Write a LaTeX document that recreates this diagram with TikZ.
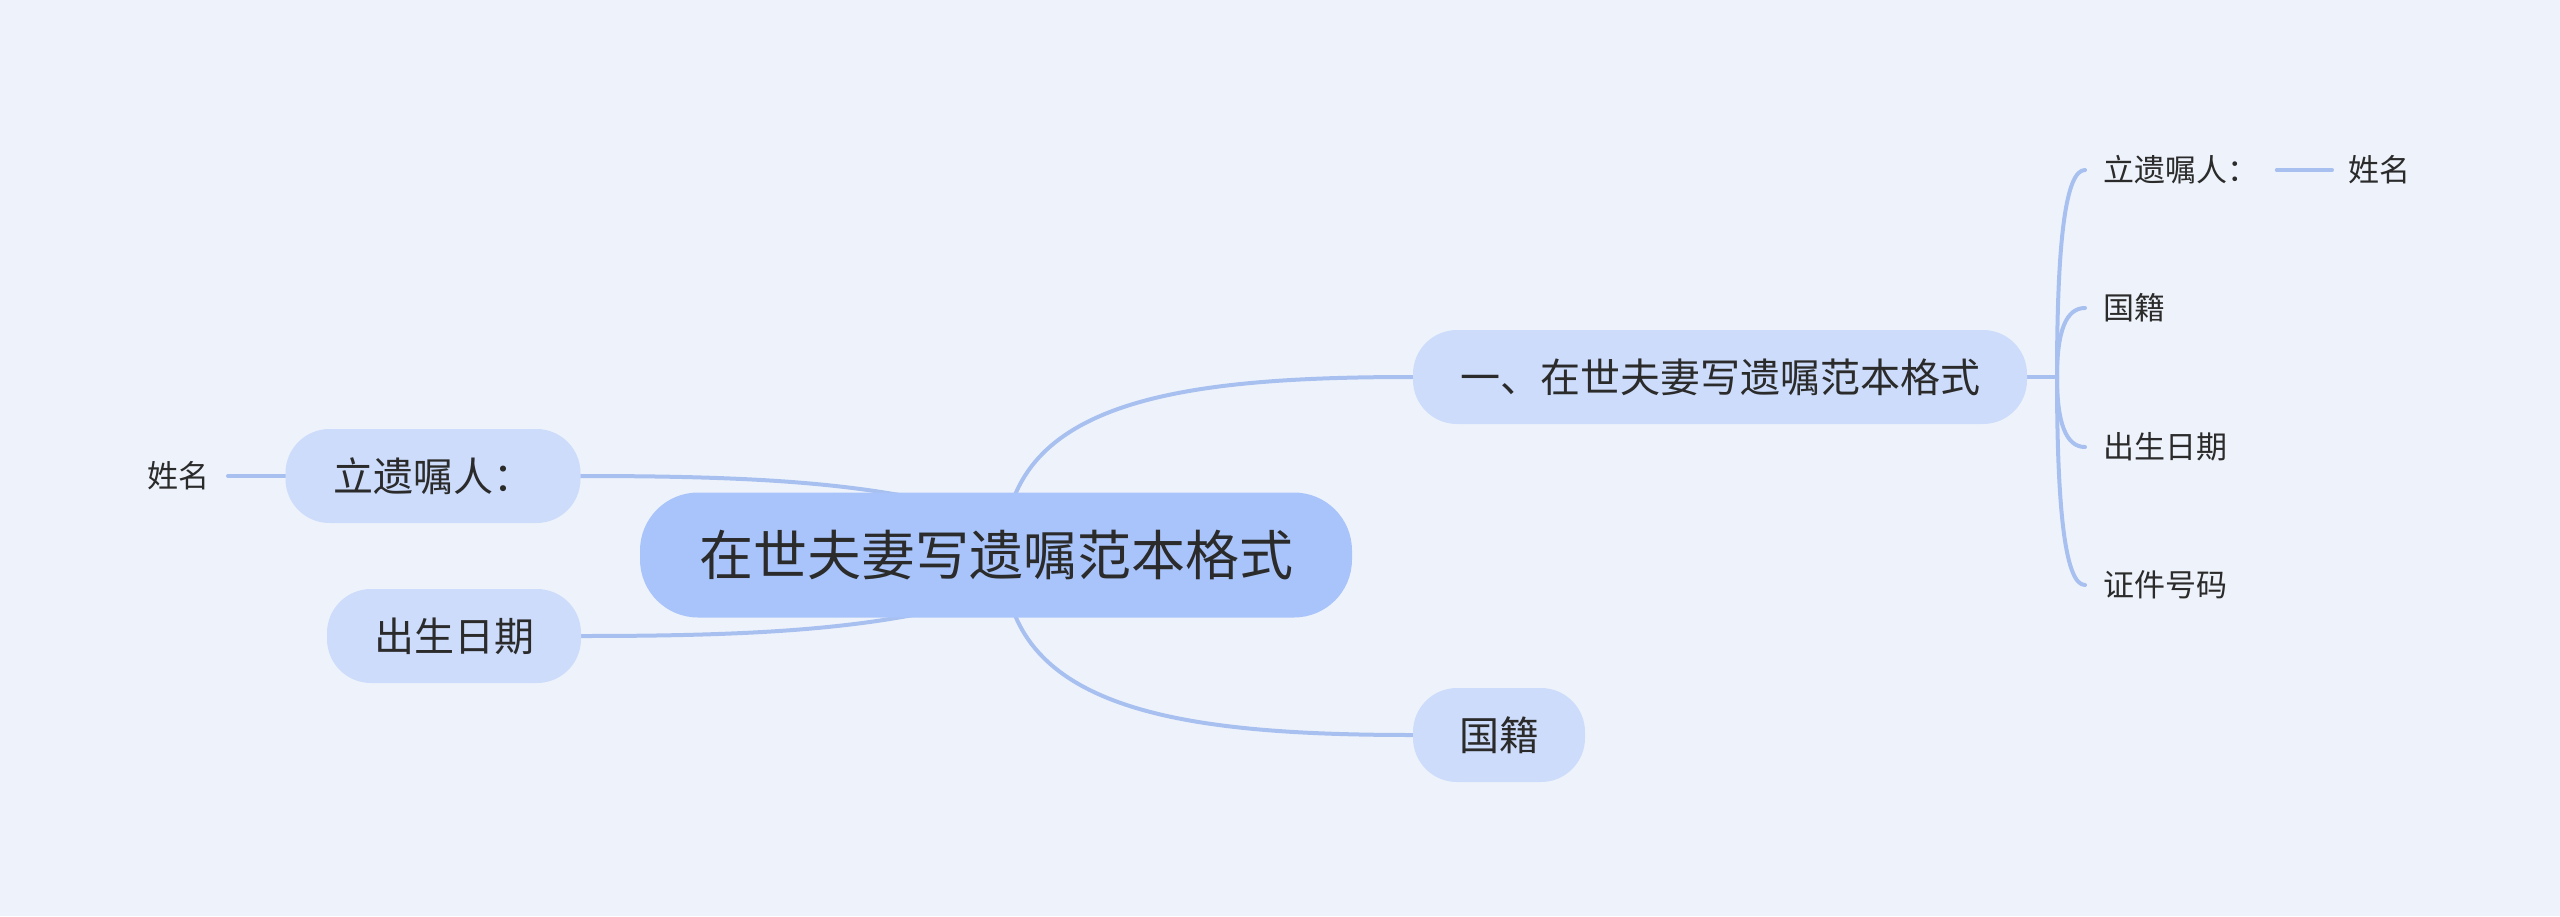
\documentclass[tikz,border=0pt]{standalone}
\usepackage{fontspec}
\newfontfamily\cjk{Noto Sans CJK SC}
\definecolor{bgc}{HTML}{EEF3FB}
\definecolor{mainc}{HTML}{A9C4FA}
\definecolor{subc}{HTML}{CCDCFA}
\definecolor{linec}{HTML}{A8C0F0}
\definecolor{txtc}{HTML}{2B2B2B}
\pgfdeclarelayer{bglayer}
\pgfdeclarelayer{linelayer}
\pgfsetlayers{bglayer,linelayer,main}
\tikzset{
  rootbox/.style={fill=mainc, text=txtc, rounded corners=29pt, inner sep=0pt,
    font=\cjk\fontsize{27pt}{32pt}\selectfont, text height=23.8pt, text depth=3.2pt,
    minimum width=356pt, minimum height=62.5pt},
  topicbox/.style={fill=subc, text=txtc, rounded corners=22pt, inner sep=0pt,
    font=\cjk\fontsize{20pt}{24pt}\selectfont, text height=17.6pt, text depth=2.4pt,
    minimum height=47pt},
  leaf/.style={text=txtc, inner ysep=0pt, inner xsep=9pt,
    font=\cjk\fontsize{15.5pt}{18pt}\selectfont, text height=13.6pt, text depth=1.9pt},
  link/.style={draw=linec, line width=2pt, line cap=round},
}
\begin{document}
\begin{tikzpicture}[x=0.5pt, y=-0.5pt]
\begin{pgfonlayer}{bglayer}
  \fill[bgc] (0,0) rectangle (2560,916);
\end{pgfonlayer}
\useasboundingbox (0,0) rectangle (2560,916);

% nodes
\node[rootbox] (c) at (996,555) {在世夫妻写遗嘱范本格式};
\node[topicbox, minimum width=307pt] (n1) at (1720,377) {一、在世夫妻写遗嘱范本格式};
\node[topicbox, minimum width=86pt] (n2) at (1499,735) {国籍};
\node[topicbox, minimum width=147.5pt] (l1) at (433,476) {立遗嘱人：};
\node[topicbox, minimum width=127pt] (l2) at (454,636) {出生日期};
\node[leaf, anchor=east] (lx) at (228,476) {姓名};

\node[leaf, anchor=west] (r1) at (2085,170) {立遗嘱人：};
\node[leaf, anchor=west] (r2) at (2085,308) {国籍};
\node[leaf, anchor=west] (r3) at (2085,447) {出生日期};
\node[leaf, anchor=west] (r4) at (2085,585) {证件号码};
\node[leaf, anchor=west, inner xsep=8pt] (rx) at (2332,170) {姓名};

\coordinate (cr) at (1004,555);
\coordinate (cl1) at (975,512);
\coordinate (cl2) at (975,601);
\coordinate (j1) at (2057,377);

\begin{pgfonlayer}{linelayer}
  \draw[link] (cr) .. controls (1004,400) and (1180,377) .. (n1.west);
  \draw[link] (cr) .. controls (1004,710) and (1180,735) .. (n2.west);
  \draw[link] (l1.east) .. controls (760,476) and (870,483) .. (cl1);
  \draw[link] (l2.east) .. controls (760,636) and (870,629) .. (cl2);
  \draw[link] (lx.east) -- (l1.west);
  \draw[link] (n1.east) -- (j1);
  \draw[link] (j1) .. controls (2057,238) and (2066,170) .. (r1.west);
  \draw[link] (j1) .. controls (2057,331) and (2066,308) .. (r2.west);
  \draw[link] (j1) .. controls (2057,423) and (2066,447) .. (r3.west);
  \draw[link] (j1) .. controls (2057,516) and (2066,585) .. (r4.west);
  \draw[link] (r1.east) -- (rx.west);
\end{pgfonlayer}
\end{tikzpicture}
\end{document}
